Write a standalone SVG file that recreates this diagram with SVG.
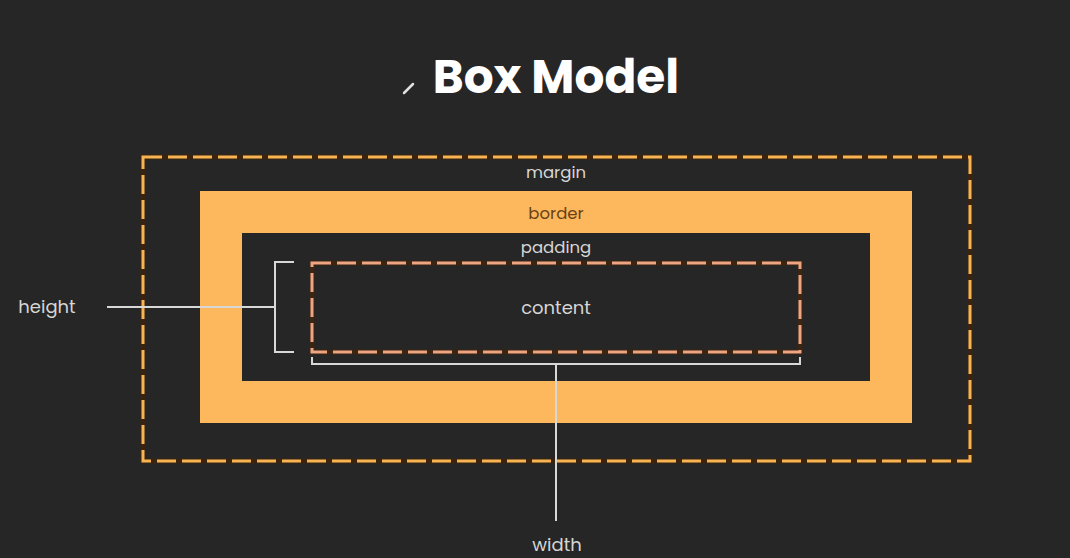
<svg xmlns="http://www.w3.org/2000/svg" width="1070" height="558" viewBox="0 0 1070 558">
<style>
.lbl{font-family:"Poppins","Inter","Liberation Sans",sans-serif;font-size:16.5px;fill:#d6d6d6;text-anchor:middle}
.line{stroke:#d8d8d8;stroke-width:2;fill:none}
</style>
<rect width="1070" height="558" fill="#262626"/>
<g id="title">
<line x1="404" y1="93" x2="413" y2="84" stroke="#e0e0e0" stroke-width="2.5" stroke-linecap="round"/>
<text x="556" y="93" font-family="Poppins,Inter,'Liberation Sans',sans-serif" font-weight="700" font-size="47" fill="#ffffff" text-anchor="middle">Box Model</text>
</g>
<g id="margin">
<rect x="143" y="157" width="827" height="304" fill="none" stroke="#3a2410" stroke-width="5"/>
<rect x="143" y="157" width="827" height="304" fill="none" stroke="#f7b453" stroke-width="3" stroke-dasharray="19 6"/>
<text class="lbl" x="556" y="178">margin</text>
</g>
<g id="border">
<rect x="200" y="191" width="712" height="232" fill="#fdb85e"/>
<rect x="242" y="233" width="628" height="148" fill="#262626"/>
<text class="lbl" x="556" y="219" style="fill:#6b4213">border</text>
</g>
<g id="padding">
<text class="lbl" x="556" y="253">padding</text>
</g>
<g id="content">
<rect x="312" y="263" width="488" height="89" fill="none" stroke="#3a2412" stroke-width="5"/>
<rect x="312" y="263" width="488" height="89" fill="none" stroke="#eea581" stroke-width="3" stroke-dasharray="19 6"/>
<text class="lbl" x="556" y="314" style="font-size:18px">content</text>
</g>
<g id="height">
<text class="lbl" x="47" y="313" style="font-size:18px">height</text>
</g>
<g id="width">
<text class="lbl" x="557" y="551" style="font-size:18px">width</text>
</g>
<g id="connectors">
<polyline class="line" points="294,262 275,262 275,352 294,352"/>
<line class="line" x1="107" y1="307" x2="275" y2="307"/>
<polyline class="line" points="312,357 312,364 800,364 800,357"/>
<line class="line" x1="556" y1="364" x2="556" y2="521"/>
</g>
</svg>
